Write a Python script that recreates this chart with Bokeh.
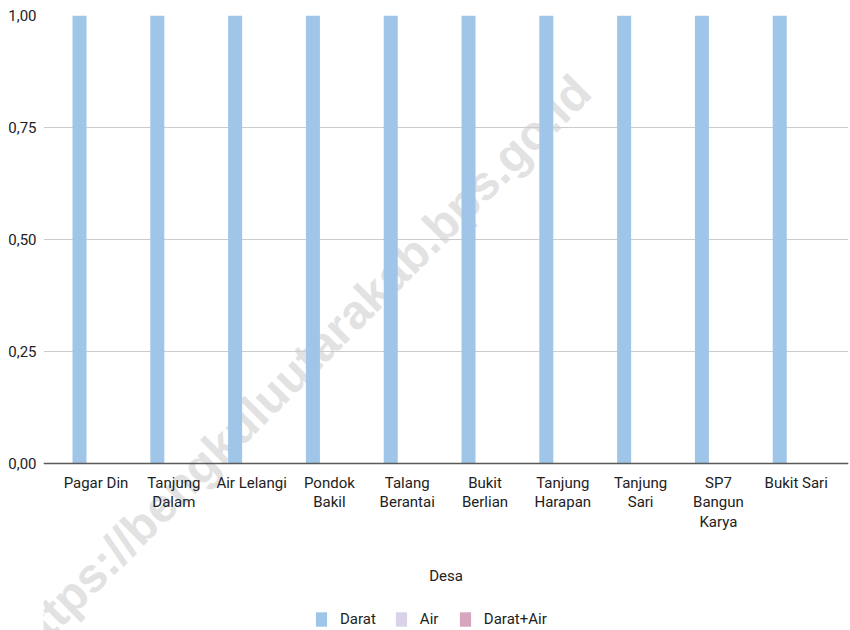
from bokeh.plotting import figure
from bokeh.models import (Range1d, FixedTicker, Label, Legend, LegendItem,
                          ColumnDataSource)
from bokeh.transform import dodge
from bokeh.embed import file_html
from bokeh.resources import INLINE

# ---- data ----
desa = ["Pagar Din", "Tanjung\nDalam", "Air Lelangi", "Pondok\nBakil",
        "Talang\nBerantai", "Bukit\nBerlian", "Tanjung\nHarapan",
        "Tanjung\nSari", "SP7\nBangun\nKarya", "Bukit Sari"]
darat = [1, 1, 1, 1, 1, 1, 1, 1, 1, 1]
air = [0, 0, 0, 0, 0, 0, 0, 0, 0, 0]
darat_air = [0, 0, 0, 0, 0, 0, 0, 0, 0, 0]
series_names = ["Darat", "Air", "Darat+Air"]
series_colors = ["#9fc5e8", "#d9d2e9", "#d5a6bd"]
yticks = [0, 0.25, 0.5, 0.75, 1.0]
ytick_labels = ["0,00", "0,25", "0,50", "0,75", "1,00"]
x_title = "Desa"
watermark = "https://bengkuluutarakab.bps.go.id"

FONT = "Roboto"
TXT = "#222222"

W, H = 850, 630
TOP, LEFT, RIGHT = 15, 43, 2
FRAME_H = H - TOP
PX_PER_UNIT = 448.0
y_bottom = -(FRAME_H - PX_PER_UNIT) / PX_PER_UNIT

idx = list(range(len(desa)))
src = ColumnDataSource(dict(x=idx, darat=darat, air=air, darat_air=darat_air))

p = figure(width=W, height=H, output_backend="svg",
           toolbar_location=None,
           x_range=Range1d(-0.675, 9.672), y_range=Range1d(y_bottom, 1),
           min_border_left=LEFT, min_border_right=RIGHT, min_border_top=TOP,
           min_border_bottom=0)
p.outline_line_color = None
p.background_fill_color = "white"
p.border_fill_color = "white"

p.add_layout(Label(x=-1.022, y=-0.415, text=watermark, angle=45,
                   angle_units="deg", text_align="left",
                   text_baseline="alphabetic", text_font="Liberation Sans",
                   text_font_style="bold", text_font_size="48px",
                   text_color="#e2e2e2", level="image"))

renderers = []
offsets = [-0.212, 0.0, 0.212]
cols = ["darat", "air", "darat_air"]
for col, off, color in zip(cols, offsets, series_colors):
    r = p.vbar(x=dodge("x", off), top=col, width=0.18, source=src,
               fill_color=color, line_color=None)
    renderers.append(r)

# y axis
p.yaxis.ticker = FixedTicker(ticks=yticks)
p.yaxis.major_label_overrides = {t: l for t, l in zip(yticks, ytick_labels)}
p.yaxis.axis_line_color = None
p.yaxis.major_tick_line_color = None
p.yaxis.minor_tick_line_color = None
p.yaxis.major_tick_out = 0
p.yaxis.major_tick_in = 0
p.yaxis.major_label_standoff = 7
p.yaxis.major_label_text_font = FONT
p.yaxis.major_label_text_font_size = "15px"
p.yaxis.major_label_text_color = TXT

# x axis, drawn at y = 0 inside the frame
p.xaxis.fixed_location = 0
p.xaxis.ticker = FixedTicker(ticks=idx)
p.xaxis.major_label_overrides = {i: d for i, d in zip(idx, desa)}
p.xaxis.axis_line_color = "#5a5a5a"
p.xaxis.axis_line_width = 1.5
p.xaxis.major_tick_line_color = None
p.xaxis.minor_tick_line_color = None
p.xaxis.major_tick_out = 0
p.xaxis.major_tick_in = 0
p.xaxis.major_label_standoff = 10
p.xaxis.major_label_text_font = FONT
p.xaxis.major_label_text_font_size = "15px"
p.xaxis.major_label_text_line_height = 1.1
p.xaxis.major_label_text_color = TXT
p.xaxis.axis_label = x_title
p.xaxis.axis_label_text_font = FONT
p.xaxis.axis_label_text_font_size = "15px"
p.xaxis.axis_label_text_font_style = "normal"
p.xaxis.axis_label_text_color = TXT
p.xaxis.axis_label_standoff = 33

p.xgrid.grid_line_color = None
p.ygrid.ticker = FixedTicker(ticks=yticks)
p.ygrid.grid_line_color = "#cccccc"
p.ygrid.grid_line_width = 1

legend = Legend(items=[LegendItem(label=n, renderers=[r])
                       for n, r in zip(series_names, renderers)],
                orientation="horizontal", location=(271, 2),
                glyph_width=14, glyph_height=18, label_standoff=12,
                spacing=18, padding=0, margin=0, border_line_color=None,
                label_text_font=FONT, label_text_font_size="15px",
                label_text_color=TXT, background_fill_alpha=0)
p.add_layout(legend, "center")

open("out.html", "w").write(file_html(p, INLINE))
